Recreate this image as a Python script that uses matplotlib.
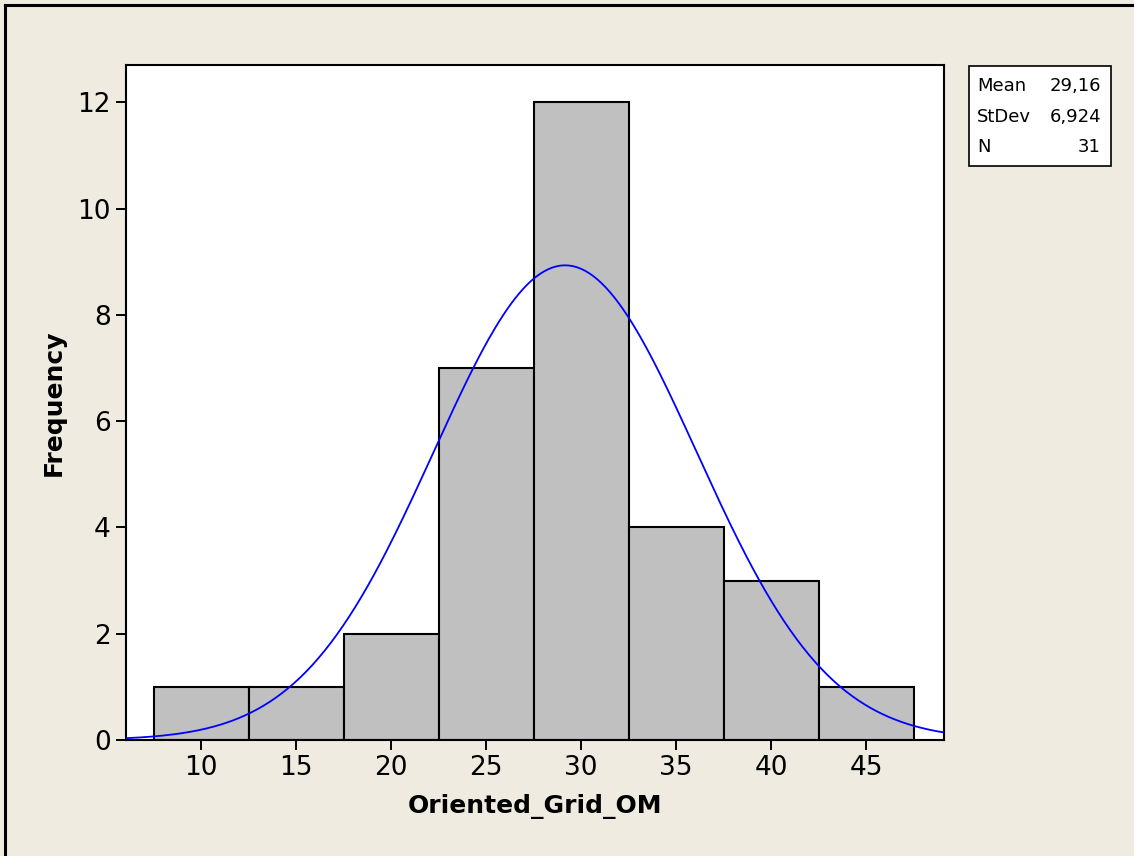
import numpy as np
import matplotlib
matplotlib.use("Agg")
import matplotlib.pyplot as plt
from matplotlib.patches import Rectangle
from matplotlib.lines import Line2D

bin_centers = [10, 15, 20, 25, 30, 35, 40, 45]
counts = [1, 1, 2, 7, 12, 4, 3, 1]
bin_width = 5
mean = 29.16
stdev = 6.924
n = 31
xticks = [10, 15, 20, 25, 30, 35, 40, 45]
yticks = [0, 2, 4, 6, 8, 10, 12]

plt.rcParams['font.family'] = ['DejaVu Sans']

fig = plt.figure(figsize=(11.34, 8.56), dpi=100)
fig.patch.set_facecolor('#EFEBE1')
# Frame lines (left and top only)
fig.lines.append(Line2D([4.5/1134, 4.5/1134], [0, 1 - 5/856], transform=fig.transFigure,
                        color='black', linewidth=2.2))
fig.lines.append(Line2D([4.5/1134, 1], [1 - 5/856, 1 - 5/856], transform=fig.transFigure,
                        color='black', linewidth=2.2))

ax = fig.add_axes([126/1134, 1 - 740/856, (944 - 126)/1134, (740 - 65)/856])
ax.set_facecolor('white')
ax.bar(bin_centers, counts, width=bin_width, color='#C0C0C0', edgecolor='black', linewidth=1.5, zorder=2)

xmin, xmax = 6.05, 49.1
xs = np.linspace(xmin, xmax, 400)
ys = n * bin_width / (stdev * np.sqrt(2 * np.pi)) * np.exp(-0.5 * ((xs - mean) / stdev) ** 2)
ax.plot(xs, ys, color='#0000FF', linewidth=1.3, zorder=3)

ax.set_xlim(xmin, xmax)
ax.set_ylim(0, 12.7)
ax.set_xticks(xticks)
ax.set_yticks(yticks)
ax.tick_params(axis='both', direction='out', length=7, width=1.4, labelsize=19, pad=4, colors='black')
for s in ax.spines.values():
    s.set_linewidth(1.5)
ax.set_xlabel('Oriented_Grid_OM', fontsize=18, fontweight='bold', labelpad=9)
ax.set_ylabel('Frequency', fontsize=18, fontweight='bold', labelpad=8)

# Stats box
bx0, bx1 = 969 / 1134, 1111 / 1134
by0, by1 = 1 - 166 / 856, 1 - 66 / 856
fig.patches.append(Rectangle((bx0, by0), bx1 - bx0, by1 - by0, transform=fig.transFigure,
                             facecolor='white', edgecolor='black', linewidth=1.2))
rows = [('Mean', '29,16'), ('StDev', '6,924'), ('N', '31')]
for i, (k, v) in enumerate(rows):
    y = 1 - (86 + i * 30.5) / 856
    fig.text(977 / 1134, y, k, fontsize=13, va='center', ha='left')
    fig.text(1101 / 1134, y, v, fontsize=13, va='center', ha='right')

fig.savefig('out.png', dpi=100, facecolor=fig.get_facecolor())
